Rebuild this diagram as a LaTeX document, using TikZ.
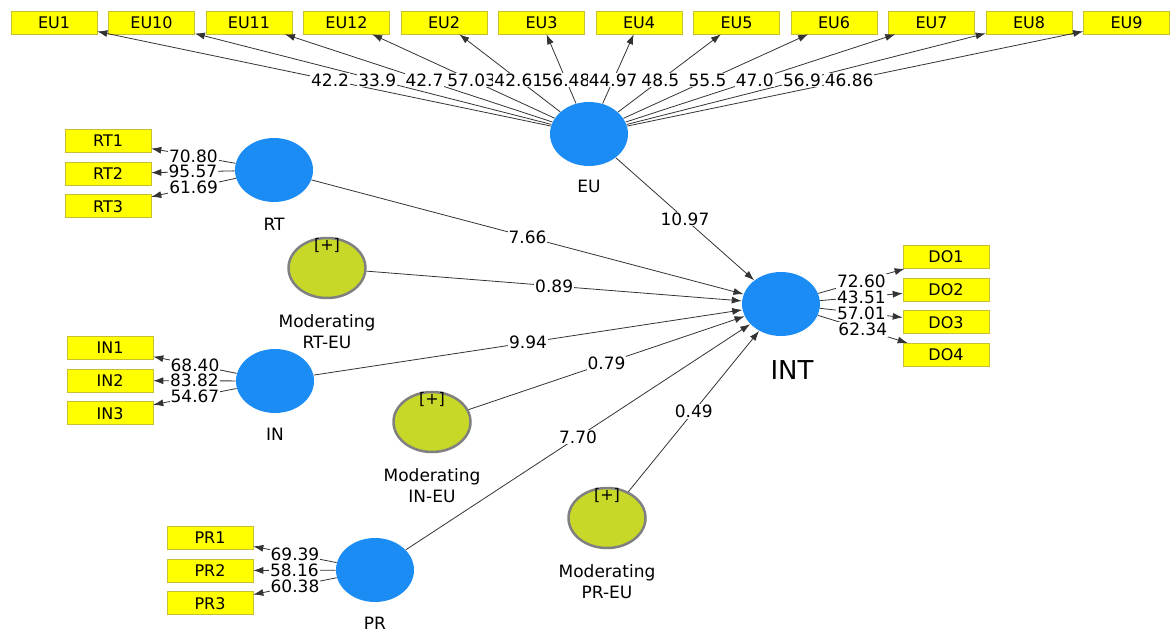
\documentclass[tikz,border=0pt]{standalone}
\usepackage{fontspec}
\setmainfont{DejaVu Sans}
\usetikzlibrary{shapes.geometric, arrows.meta, positioning, calc}

\definecolor{lvblue}{RGB}{28,140,245}
\definecolor{modgreen}{RGB}{200,216,40}
\definecolor{indyellow}{RGB}{255,255,0}

\tikzset{
  lv/.style={ellipse, fill=lvblue, minimum width=78pt, minimum height=64pt, inner sep=0pt},
  mod/.style={ellipse, fill=modgreen, draw=gray, line width=2.5pt, minimum width=77pt, minimum height=60pt, inner sep=0pt},
  ind/.style={rectangle, fill=indyellow, draw=yellow!75!black, line width=0.6pt, minimum width=86pt, minimum height=23pt, inner sep=0pt, font=\fontsize{16}{18}\selectfont},
  num/.style={fill=white, text=black, inner sep=1pt, font=\fontsize{17}{19}\selectfont},
  lvname/.style={font=\fontsize{17}{21}\selectfont, align=center},
  plus/.style={inner sep=0pt, anchor=north, font=\fontsize{16}{18}\selectfont},
  path/.style={->, black!80},
}

\begin{document}
\begin{tikzpicture}[>={Latex[length=10pt,width=7pt]}, x=1pt, y=-1pt, line width=0.8pt]
\useasboundingbox (0,0) rectangle (1176,635);

% latent variables
\node[lv] (eu) at (589,134) {};
\node[lv] (rt) at (274,170) {};
\node[lv] (in) at (275,381) {};
\node[lv] (pr) at (375,570) {};
\node[lv] (int) at (781,304) {};

\node[lvname, below=10pt of eu] (eu-name) {EU};
\node[lvname, below=12pt of rt] (rt-name) {RT};
\node[lvname, below=11pt of in] (in-name) {IN};
\node[lvname, below=11pt of pr] (pr-name) {PR};
\node[font=\fontsize{26}{30}\selectfont, below=20pt of int, xshift=11pt] (int-name) {INT};

% moderating effects
\node[mod] (mod-rt) at (327,268) {};
\node[mod] (mod-in) at (432,422) {};
\node[mod] (mod-pr) at (607,518) {};

\node[plus] (mod-rt-p) at ([yshift=-1pt]mod-rt.north) {[+]};
\node[plus] (mod-in-p) at ([yshift=-1pt]mod-in.north) {[+]};
\node[plus] (mod-pr-p) at ([yshift=-1pt]mod-pr.north) {[+]};

\node[lvname, below=12pt of mod-rt] (mod-rt-name) {Moderating\\RT-EU};
\node[lvname, below=12pt of mod-in] (mod-in-name) {Moderating\\IN-EU};
\node[lvname, below=12pt of mod-pr] (mod-pr-name) {Moderating\\PR-EU};

% indicators
\foreach \n [count=\i] in {1,10,11,12,2,3,4,5,6,7,8,9}
  \node[ind] (eu\n) at ({54+97.5*(\i-1)},22.5) {EU\n};

\node[ind] (rt1) at (108,141) {RT1};
\node[ind, below=9pt of rt1] (rt2) {RT2};
\node[ind, below=9pt of rt2] (rt3) {RT3};

\node[ind] (in1) at (110,348) {IN1};
\node[ind, below=9pt of in1] (in2) {IN2};
\node[ind, below=9pt of in2] (in3) {IN3};

\node[ind] (pr1) at (210,538) {PR1};
\node[ind, below=9pt of pr1] (pr2) {PR2};
\node[ind, below=9pt of pr2] (pr3) {PR3};

\node[ind] (do1) at (946,257) {DO1};
\node[ind, below=9pt of do1] (do2) {DO2};
\node[ind, below=9pt of do2] (do3) {DO3};
\node[ind, below=9pt of do3] (do4) {DO4};

% outer loadings
\foreach \n in {1,10,11,12,2,3,4,5,6,7,8,9}
  \draw[path] (eu) -- (eu\n);
\foreach \n/\v in {1/42.2, 10/33.9, 11/42.7, 12/57.03, 2/42.61, 3/56.48, 4/44.97, 5/48.5, 6/55.5, 7/47.0, 8/56.9, 9/46.86}
  \path (eu.center) -- (eu\n.center) node[num, pos=0.484] {\v};

\foreach \i/\v in {1/70.80, 2/95.57, 3/61.69}
  \draw[path] (rt) -- (rt\i) node[num, pos=0.5] {\v};
\foreach \i/\v in {1/68.40, 2/83.82, 3/54.67}
  \draw[path] (in) -- (in\i) node[num, pos=0.5] {\v};
\foreach \i/\v in {1/69.39, 2/58.16, 3/60.38}
  \draw[path] (pr) -- (pr\i) node[num, pos=0.5] {\v};
\foreach \i/\v in {1/72.60, 2/43.51, 3/57.01, 4/62.34}
  \draw[path] (int) -- (do\i) node[num, pos=0.5] {\v};

% path coefficients
\draw[path] (eu) -- (int) node[num, pos=0.5] {10.97};
\draw[path] (rt) -- (int) node[num, pos=0.5] {7.66};
\draw[path] (mod-rt) -- (int) node[num, pos=0.5] {0.89};
\draw[path] (in) -- (int) node[num, pos=0.5] {9.94};
\draw[path] (mod-in) -- (int) node[num, pos=0.5] {0.79};
\draw[path] (pr) -- (int) node[num, pos=0.5] {7.70};
\draw[path] (mod-pr) -- (int) node[num, pos=0.5] {0.49};

\end{tikzpicture}
\end{document}
